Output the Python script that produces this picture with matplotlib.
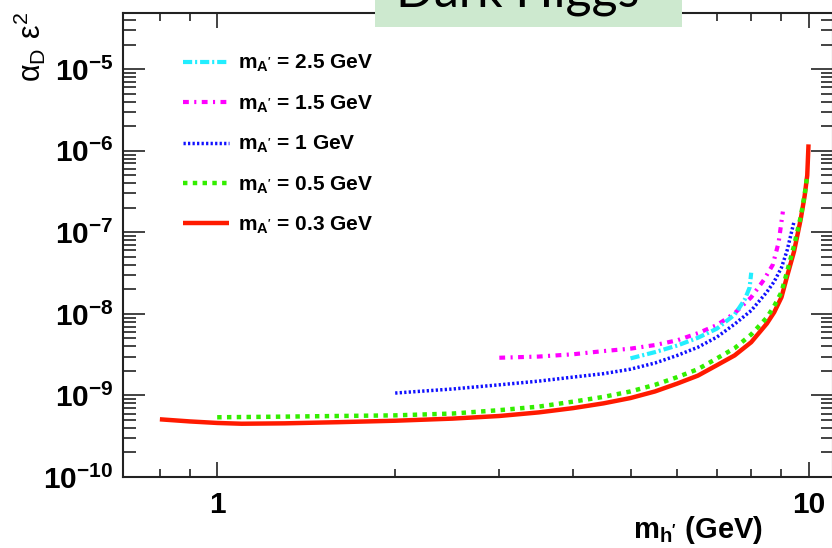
import numpy as np
import matplotlib
matplotlib.use('Agg')
import matplotlib.pyplot as plt
from matplotlib.patches import Rectangle
from matplotlib.ticker import LogLocator, NullFormatter

# values (m_h' in GeV, alpha_D * eps^2)
x_03 = [0.8, 0.9, 1.0, 1.1, 1.3, 1.6, 2.0, 2.5, 3.0, 3.5, 4.0, 4.5, 5.0, 5.5,
        6.0, 6.5, 7.0, 7.5, 8.0, 8.5, 8.75, 9.0, 9.2, 9.45, 9.7, 9.85, 9.95, 10.0]
y_03 = [5.1e-10, 4.8e-10, 4.6e-10, 4.5e-10, 4.55e-10, 4.7e-10, 4.9e-10, 5.2e-10,
        5.6e-10, 6.2e-10, 7.0e-10, 8.0e-10, 9.3e-10, 1.12e-9, 1.4e-9, 1.75e-9,
        2.35e-9, 3.1e-9, 4.5e-9, 7.6e-9, 1.05e-8, 1.6e-8, 2.9e-8, 5.8e-8,
        1.45e-7, 2.8e-7, 5.0e-7, 1.2e-6]

x_05 = [1.0, 1.3, 1.6, 2.0, 2.5, 3.0, 3.5, 4.0, 4.5, 5.0, 5.5, 6.0, 6.5, 7.0,
        7.5, 8.0, 8.5, 8.75, 9.0, 9.2, 9.45, 9.7, 9.85, 9.95]
y_05 = [5.4e-10, 5.5e-10, 5.6e-10, 5.7e-10, 6.0e-10, 6.6e-10, 7.3e-10, 8.4e-10,
        9.6e-10, 1.12e-9, 1.35e-9, 1.68e-9, 2.1e-9, 2.85e-9, 3.8e-9, 5.6e-9,
        9.0e-9, 1.25e-8, 1.85e-8, 3.3e-8, 6.8e-8, 1.55e-7, 2.9e-7, 5.0e-7]

x_1 = [2.0, 2.5, 3.0, 3.5, 4.0, 4.5, 5.0, 5.5, 6.0, 6.5, 7.0, 7.5, 8.0, 8.5,
       8.75, 9.0, 9.2, 9.45]
y_1 = [1.07e-9, 1.2e-9, 1.35e-9, 1.5e-9, 1.68e-9, 1.85e-9, 2.1e-9, 2.5e-9,
       3.1e-9, 3.9e-9, 5.2e-9, 7.5e-9, 1.1e-8, 1.85e-8, 2.5e-8, 3.7e-8, 6.0e-8, 1.35e-7]

x_15 = [3.0, 3.5, 4.0, 4.5, 5.0, 5.5, 6.0, 6.5, 7.0, 7.5, 8.0, 8.4, 8.7, 8.9, 9.05]
y_15 = [2.9e-9, 3.0e-9, 3.2e-9, 3.5e-9, 3.75e-9, 4.15e-9, 4.75e-9, 5.8e-9,
        7.3e-9, 1.02e-8, 1.6e-8, 2.6e-8, 4.0e-8, 7.5e-8, 1.8e-7]

x_25 = [5.0, 5.5, 6.0, 6.5, 7.0, 7.5, 7.8, 7.95, 8.0]
y_25 = [2.85e-9, 3.4e-9, 4.1e-9, 5.1e-9, 6.6e-9, 9.8e-9, 1.5e-8, 2.1e-8, 3.2e-8]

labels = [r"m$_{\mathrm{A'}}$ = 2.5 GeV", r"m$_{\mathrm{A'}}$ = 1.5 GeV",
          r"m$_{\mathrm{A'}}$ = 1 GeV", r"m$_{\mathrm{A'}}$ = 0.5 GeV",
          r"m$_{\mathrm{A'}}$ = 0.3 GeV"]
y_decades = [1e-10, 1e-9, 1e-8, 1e-7, 1e-6, 1e-5]
y_ticklabels = [r'$10^{-10}$', r'$10^{-9}$', r'$10^{-8}$', r'$10^{-7}$',
                r'$10^{-6}$', r'$10^{-5}$']

plt.rcParams['font.family'] = ['Liberation Sans', 'DejaVu Sans']
plt.rcParams['font.weight'] = 'bold'
plt.rcParams['mathtext.fontset'] = 'custom'
plt.rcParams['mathtext.rm'] = 'Liberation Sans:bold'
plt.rcParams['mathtext.bf'] = 'Liberation Sans:bold'
plt.rcParams['mathtext.it'] = 'Liberation Sans:italic:bold'

fig = plt.figure(figsize=(8.32, 5.48), dpi=100)
ax = fig.add_axes([123/832, 1-477/548, 710/832, 464/548])
ax.set_xscale('log')
ax.set_yscale('log')

l03, = ax.plot(x_03, y_03, color='#ff1a00', lw=3.2, solid_capstyle='butt')
l05, = ax.plot(x_05, y_05, color='#33ee00', lw=3.2, linestyle=(0, (1.0, 1.2)))
l1, = ax.plot(x_1, y_1, color='#1010ff', lw=2.5, linestyle=(0, (0.65, 0.65)))
l15, = ax.plot(x_15, y_15, color='#ff00ff', lw=3.0, linestyle=(0, (1.4, 1.3, 0.5, 1.3)))
l25, = ax.plot(x_25, y_25, color='#22eeff', lw=3.0, linestyle=(0, (2.2, 0.7, 0.5, 0.7)))

ax.set_xticks([1, 10])
ax.set_xticklabels(['1', '10'])
ax.set_xticks([0.8, 0.9, 2, 3, 4, 5, 6, 7, 8, 9], minor=True)
ax.xaxis.set_minor_formatter(NullFormatter())
ax.set_yticks(y_decades)
ax.set_yticklabels(y_ticklabels)
ax.yaxis.set_minor_locator(LogLocator(base=10, subs=np.arange(2, 10), numticks=30))
ax.yaxis.set_minor_formatter(NullFormatter())
ax.set_xlim(0.693, 11.0)
ax.set_ylim(1e-10, 4.9e-5)

ax.tick_params(which='both', direction='in', top=True, right=True, width=1.2, color='#222222')
ax.tick_params(axis='x', which='major', length=10.8, pad=10, labelsize=21.5)
ax.tick_params(axis='x', which='minor', length=5.5)
ax.tick_params(axis='y', which='major', length=15.8, pad=7, labelsize=21.5)
ax.tick_params(axis='y', which='minor', length=9)
for s in ax.spines.values():
    s.set_linewidth(1.5)
    s.set_color('#222222')

ax.legend([l25, l15, l1, l05, l03], labels, loc='upper left',
          bbox_to_anchor=(0.0845, 0.914), frameon=False, fontsize=15,
          handlelength=2.2, handletextpad=0.45, labelspacing=0.92,
          borderpad=0, borderaxespad=0)

fig.text(763/832, 1-538/548, r"m$_{\mathrm{h'}}$ (GeV)", fontsize=21,
         ha='right', va='baseline')
fig.text(30/832, 1-12/548, r'$\mathregular{\alpha_{D}\ \varepsilon^{2}}$',
         fontsize=22, fontweight='normal', rotation=90, ha='center', va='top')

# green title box at the top
fig.add_artist(Rectangle((375/832, 1-27/548), 307/832, 30/548, transform=fig.transFigure,
                         facecolor='#cde9cf', edgecolor='none', zorder=5))
fig.text(518/832, 1-6/548, 'Dark Higgs', family='Lato', fontsize=36,
         fontweight='normal', ha='center', va='baseline', zorder=6)

fig.savefig('out.png', dpi=100)
